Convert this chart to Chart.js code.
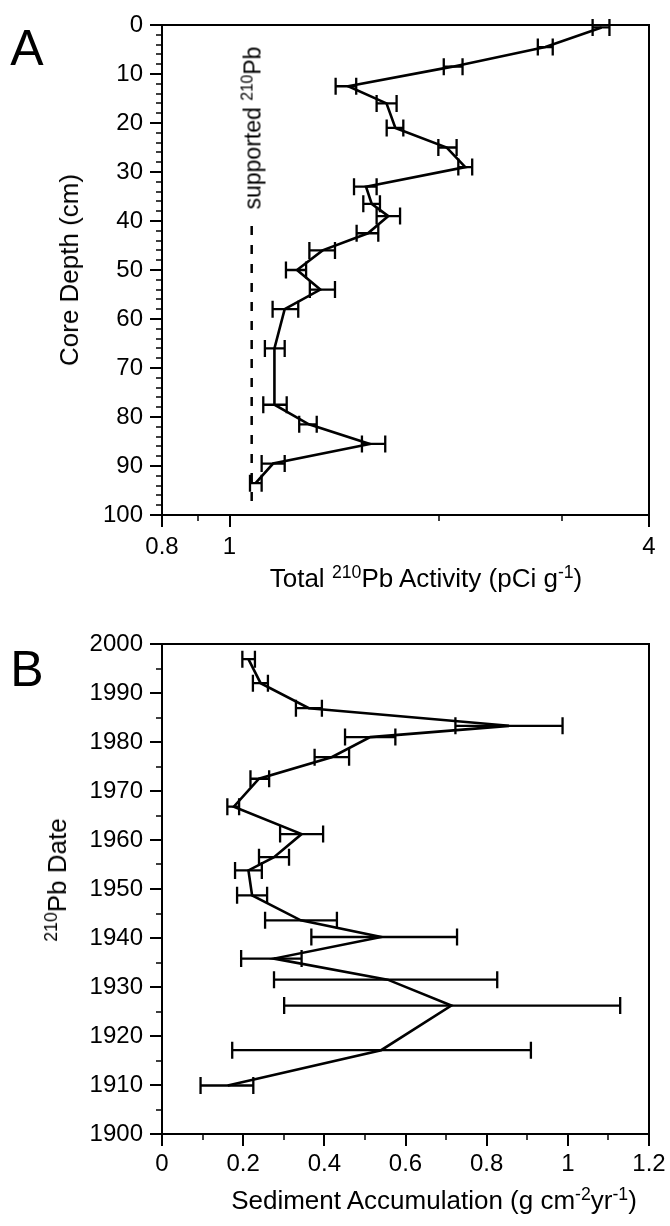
<!DOCTYPE html>
<html>
<head>
<meta charset="utf-8">
<script src="https://cdn.jsdelivr.net/npm/chart.js@4.4.1/dist/chart.umd.min.js"></script>
<style>
  html, body { margin: 0; padding: 0; background: #fff; }
  body { width: 670px; height: 1226px; position: relative; overflow: hidden; font-family: "Liberation Sans", Arial, sans-serif; color: #000; }
  canvas { position: absolute; left: 0; }
  #cA { top: 0; }
  #cB { top: 610px; }
  .lbl { position: absolute; white-space: nowrap; line-height: 1; transform: translate(-50%, -50%); font-size: 26px; }
  .rot { transform: translate(-50%, -50%) rotate(-90deg); }
  .big { font-size: 50px; }
  .sm { font-size: 23px; }
  sup { font-size: 0.68em; vertical-align: 0.5em; line-height: 0; }
</style>
</head>
<body>
<canvas id="cA" width="670" height="610"></canvas>
<canvas id="cB" width="670" height="616"></canvas>

<div class="lbl big" style="left:27px; top:48px;">A</div>
<div class="lbl big" style="left:27px; top:669px;">B</div>
<div class="lbl rot" style="left:69px; top:270px;">Core Depth (cm)</div>
<div class="lbl" style="left:426px; top:578px;">Total <sup>210</sup>Pb Activity (pCi g<sup>-1</sup>)</div>
<div class="lbl rot sm" style="left:253px; top:128px;">supported <sup>210</sup>Pb</div>
<div class="lbl rot" style="left:57px; top:880px;"><sup>210</sup>Pb Date</div>
<div class="lbl" style="left:434px; top:1200px;">Sediment Accumulation (g cm<sup>-2</sup>yr<sup>-1</sup>)</div>

<script>
// ---------- Panel A data: total 210Pb activity vs core depth ----------
const depthA    = [0.5, 4.5, 8.5, 12.5, 16, 21, 25, 29, 33, 36.5, 39, 42.5, 46, 50, 54, 58, 66, 77.5, 81.5, 85.5, 89.5, 93.5];
const activityA = [3.42, 2.84, 2.09, 1.48, 1.68, 1.73, 2.05, 2.18, 1.57, 1.60, 1.69, 1.58, 1.36, 1.25, 1.35, 1.20, 1.16, 1.16, 1.30, 1.59, 1.155, 1.09];
const lowA      = [3.32, 2.77, 2.03, 1.42, 1.626, 1.681, 1.994, 2.13, 1.509, 1.556, 1.626, 1.522, 1.302, 1.205, 1.304, 1.153, 1.124, 1.118, 1.259, 1.549, 1.112, 1.07];
const highA     = [3.51, 2.91, 2.16, 1.52, 1.737, 1.776, 2.118, 2.23, 1.626, 1.644, 1.757, 1.635, 1.417, 1.288, 1.417, 1.255, 1.20, 1.208, 1.334, 1.673, 1.20, 1.112];
const supportedPb = 1.076;
const supportedDepthRange = [41, 98.5];
const xTicksA = [0.8, 0.9, 1, 2, 3, 4];
const xLabelsA = [0.8, 1, 4];
const yTicksA = [0, 10, 20, 30, 40, 50, 60, 70, 80, 90, 100];

// ---------- Panel B data: sediment accumulation vs 210Pb date ----------
const yearB  = [1996.9, 1992.0, 1986.9, 1983.3, 1981.0, 1976.9, 1972.5, 1966.8, 1961.2, 1956.5, 1953.8, 1948.7, 1943.6, 1940.2, 1935.8, 1931.5, 1926.2, 1917.1, 1909.9];
const accumB = [0.213, 0.243, 0.362, 0.855, 0.513, 0.418, 0.239, 0.177, 0.344, 0.276, 0.213, 0.222, 0.342, 0.54, 0.276, 0.556, 0.713, 0.54, 0.162];
const lowB   = [0.198, 0.224, 0.33, 0.723, 0.451, 0.376, 0.218, 0.161, 0.291, 0.239, 0.18, 0.185, 0.254, 0.368, 0.195, 0.276, 0.301, 0.173, 0.095];
const highB  = [0.229, 0.261, 0.394, 0.987, 0.575, 0.461, 0.264, 0.19, 0.397, 0.313, 0.246, 0.259, 0.431, 0.727, 0.344, 0.826, 1.129, 0.909, 0.225];
const xTicksB = [0, 0.2, 0.4, 0.6, 0.8, 1, 1.2];
const xMinorB = [0.1, 0.3, 0.5, 0.7, 0.9, 1.1];
const yTicksB = [1900, 1910, 1920, 1930, 1940, 1950, 1960, 1970, 1980, 1990, 2000];
const yMinorB = [1905, 1915, 1925, 1935, 1945, 1955, 1965, 1975, 1985, 1995];
const yMinorA = [];
for (let d = 2; d < 100; d += 2) if (d % 10 !== 0) yMinorA.push(d);

const FONT = { family: '"Liberation Sans", Arial, sans-serif', size: 24 };
const MAJOR = 12, MINOR = 6;

function decorPlugin(cfg) {
  return {
    id: 'decor' + cfg.name,
    afterDatasetsDraw(chart) {
      const ctx = chart.ctx, xs = chart.scales.x, ys = chart.scales.y;
      ctx.save();
      ctx.strokeStyle = '#000';
      ctx.lineWidth = 2.3;
      const cap = 8.5;
      for (let i = 0; i < cfg.pos.length; i++) {
        const py = ys.getPixelForValue(cfg.pos[i]);
        const x1 = xs.getPixelForValue(cfg.low[i]);
        const x2 = xs.getPixelForValue(cfg.high[i]);
        ctx.beginPath();
        ctx.moveTo(x1, py); ctx.lineTo(x2, py);
        ctx.moveTo(x1, py - cap); ctx.lineTo(x1, py + cap);
        ctx.moveTo(x2, py - cap); ctx.lineTo(x2, py + cap);
        ctx.stroke();
      }
      if (cfg.supported) {
        const sx = xs.getPixelForValue(cfg.supported.value);
        ctx.setLineDash([9, 10]);
        ctx.lineWidth = 2.5;
        ctx.beginPath();
        ctx.moveTo(sx, ys.getPixelForValue(cfg.supported.range[0]));
        ctx.lineTo(sx, ys.getPixelForValue(cfg.supported.range[1]));
        ctx.stroke();
        ctx.setLineDash([]);
      }
      ctx.restore();
    },
    afterDraw(chart) {
      const ctx = chart.ctx, a = chart.chartArea, xs = chart.scales.x, ys = chart.scales.y;
      ctx.save();
      ctx.strokeStyle = '#000';
      ctx.lineWidth = 2;
      ctx.strokeRect(a.left, a.top, a.right - a.left, a.bottom - a.top);
      ctx.beginPath();
      cfg.yMajor.forEach(v => { const p = Math.round(ys.getPixelForValue(v)); ctx.moveTo(a.left - MAJOR, p); ctx.lineTo(a.left, p); });
      cfg.xMajor.forEach(v => { const p = Math.round(xs.getPixelForValue(v)); ctx.moveTo(p, a.bottom); ctx.lineTo(p, a.bottom + MAJOR); });
      ctx.stroke();
      ctx.lineWidth = 1.5;
      ctx.beginPath();
      cfg.yMinor.forEach(v => { const p = Math.round(ys.getPixelForValue(v)); ctx.moveTo(a.left - MINOR, p); ctx.lineTo(a.left, p); });
      cfg.xMinor.forEach(v => { const p = Math.round(xs.getPixelForValue(v)); ctx.moveTo(p, a.bottom); ctx.lineTo(p, a.bottom + MINOR); });
      ctx.stroke();
      ctx.restore();
    }
  };
}

function baseOptions(o) {
  return {
    responsive: false,
    animation: false,
    events: [],
    plugins: { legend: { display: false }, tooltip: { enabled: false } },
    layout: { padding: { top: o.top, right: 21, left: 0, bottom: 0 } },
    scales: {
      x: Object.assign({
        grid: { display: false, drawTicks: false },
        border: { display: false },
        afterFit: s => { s.height = o.xHeight; s.paddingLeft = 0; s.paddingRight = 0; },
      }, o.x),
      y: Object.assign({
        grid: { display: false, drawTicks: false },
        border: { display: false },
        afterFit: s => { s.width = 162; s.paddingTop = 0; s.paddingBottom = 0; },
      }, o.y)
    }
  };
}

// ---------- Chart A ----------
new Chart(document.getElementById('cA'), {
  type: 'scatter',
  data: { datasets: [{
    data: depthA.map((d, i) => ({ x: activityA[i], y: d })),
    showLine: true, borderColor: '#000', borderWidth: 2.6, pointRadius: 0, tension: 0
  }]},
  options: baseOptions({
    top: 25, xHeight: 95,
    x: {
      type: 'logarithmic', min: 0.8, max: 4,
      afterBuildTicks: s => { s.ticks = xTicksA.map(v => ({ value: v })); },
      ticks: { autoSkip: false, maxRotation: 0, padding: 18, color: '#000', font: FONT,
        callback: v => xLabelsA.some(l => Math.abs(l - v) < 1e-9) ? String(v) : '' }
    },
    y: {
      type: 'linear', reverse: true, min: 0, max: 100,
      afterBuildTicks: s => { s.ticks = yTicksA.map(v => ({ value: v })); },
      ticks: { autoSkip: false, padding: 19, color: '#000', font: FONT, callback: v => String(v) }
    }
  }),
  plugins: [decorPlugin({
    name: 'A', pos: depthA, low: lowA, high: highA,
    supported: { value: supportedPb, range: supportedDepthRange },
    yMajor: yTicksA, yMinor: yMinorA, xMajor: [0.8, 1, 4], xMinor: [0.9, 2, 3]
  })]
});

// ---------- Chart B ----------
new Chart(document.getElementById('cB'), {
  type: 'scatter',
  data: { datasets: [{
    data: yearB.map((y, i) => ({ x: accumB[i], y: y })),
    showLine: true, borderColor: '#000', borderWidth: 2.6, pointRadius: 0, tension: 0
  }]},
  options: baseOptions({
    top: 34, xHeight: 92,
    x: {
      type: 'linear', min: 0, max: 1.2,
      afterBuildTicks: s => { s.ticks = xTicksB.map(v => ({ value: v })); },
      ticks: { autoSkip: false, maxRotation: 0, padding: 16, color: '#000', font: FONT, callback: v => String(v) }
    },
    y: {
      type: 'linear', min: 1900, max: 2000,
      afterBuildTicks: s => { s.ticks = yTicksB.map(v => ({ value: v })); },
      ticks: { autoSkip: false, padding: 19, color: '#000', font: FONT, callback: v => String(v) }
    }
  }),
  plugins: [decorPlugin({
    name: 'B', pos: yearB, low: lowB, high: highB,
    yMajor: yTicksB, yMinor: yMinorB, xMajor: xTicksB, xMinor: xMinorB
  })]
});
</script>
</body>
</html>
